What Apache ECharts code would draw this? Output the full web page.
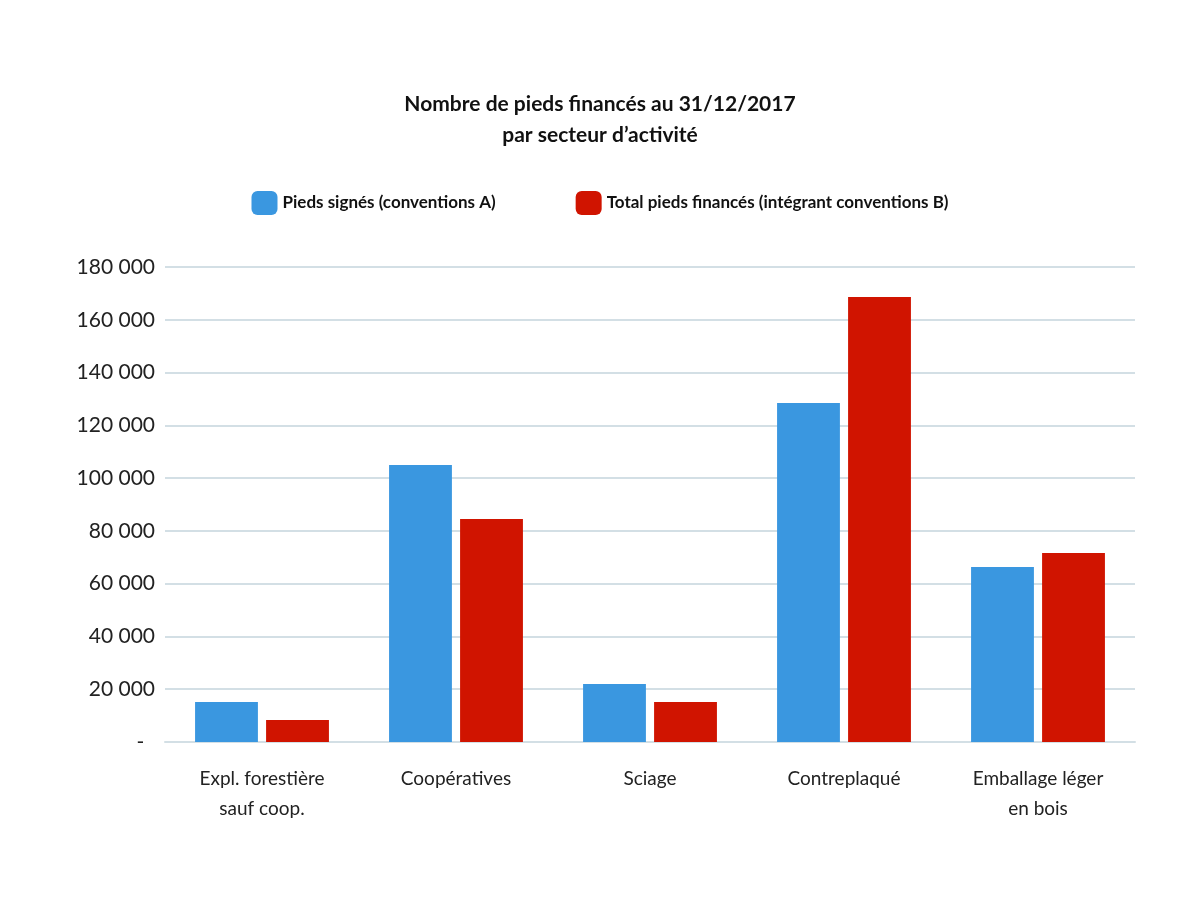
<!DOCTYPE html>
<html><head><meta charset="utf-8">
<script src="https://cdn.jsdelivr.net/npm/echarts@6/dist/echarts.min.js"></script>
<style>html,body{margin:0;background:#fff}#c{width:1200px;height:900px}</style>
</head><body><div id="c"></div>
<script>
const categories = ["Expl. forestière\nsauf coop.", "Coopératives", "Sciage", "Contreplaqué", "Emballage léger\nen bois"];
const signes = [15200, 105000, 22000, 128500, 66300];
const total = [8300, 84500, 15200, 168600, 71600];
const chart = echarts.init(document.getElementById('c'));
chart.setOption({
  animation: false,
  textStyle: { fontFamily: 'Lato' },
  title: { text: 'Nombre de pieds financés au 31/12/2017\npar secteur d’activité', left: 'center', top: 84,
    textStyle: { fontSize: 21, fontWeight: 'bold', color: '#111', lineHeight: 31, fontFamily: 'Lato' } },
  legend: { top: 186, left: 'center', itemWidth: 26, itemHeight: 24, itemGap: 80,
    textStyle: { fontSize: 17, fontWeight: 'bold', color: '#111', fontFamily: 'Lato' } },
  grid: { left: 165, right: 65, top: 267, bottom: 158 },
  xAxis: { type: 'category', data: categories,
    axisLine: { lineStyle: { color: '#d3dfe5', width: 2 } }, axisTick: { show: false },
    axisLabel: { fontSize: 19, color: '#222', margin: 22, lineHeight: 30 } },
  yAxis: { type: 'value', min: 0, max: 180000, interval: 20000,
    splitLine: { lineStyle: { color: '#d3dfe5', width: 2 } },
    axisLabel: { fontSize: 21, color: '#222', margin: 10,
      formatter: v => v === 0 ? '-  ' : String(v).replace(/\B(?=(\d{3})+$)/g, ' ') } },
  series: [
    { name: 'Pieds signés (conventions A)', type: 'bar', data: signes, itemStyle: { color: '#3a97e0' }, barGap: '13%', barCategoryGap: '31%' },
    { name: 'Total pieds financés (intégrant conventions B)', type: 'bar', data: total, itemStyle: { color: '#d01400' } }
  ]
});
</script></body></html>
